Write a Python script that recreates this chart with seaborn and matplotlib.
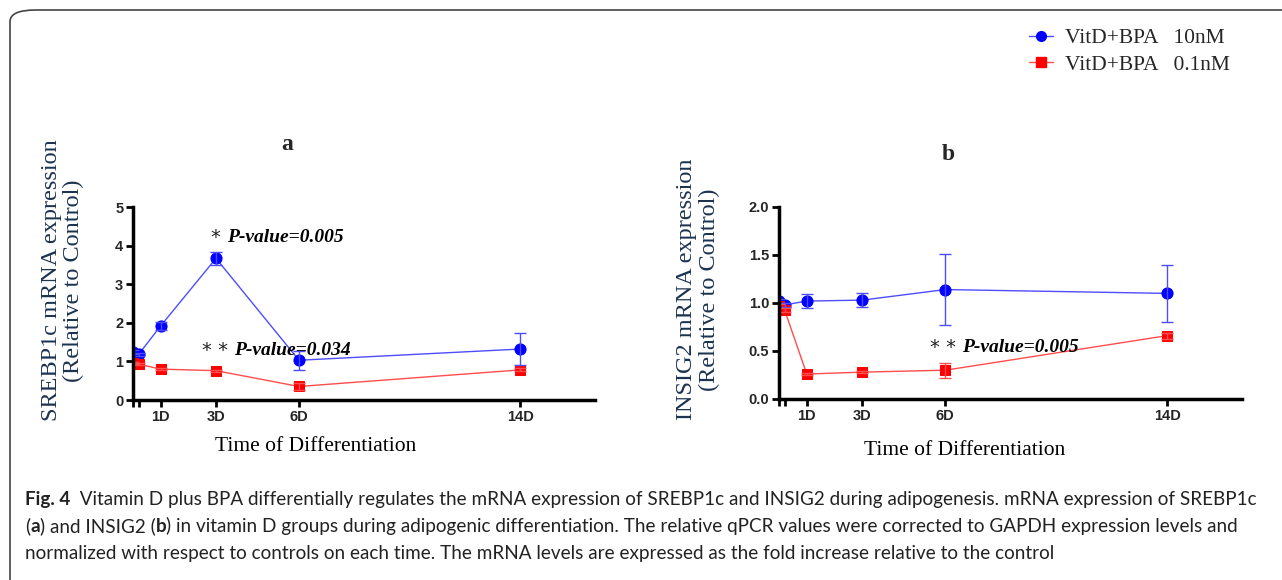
import numpy as np
import pandas as pd
import matplotlib.pyplot as plt
import seaborn as sns
from matplotlib.lines import Line2D
from matplotlib.patches import FancyBboxPatch

# time points (days); 0 and 0.2 are the two early points at the origin
days = [0, 0.2, 1, 3, 6, 14]
tick_pos = [0, 0.2, 1, 3, 6, 14]
tick_labels = ['', '', '1D', '3D', '6D', '14D']

# panel a: SREBP1c
srebp_10nM = [1.25, 1.18, 1.92, 3.67, 1.03, 1.32]
srebp_10nM_err = [0.05, 0.05, 0.10, 0.17, 0.25, 0.42]
srebp_01nM = [0.95, 0.93, 0.80, 0.76, 0.35, 0.78]
srebp_01nM_err = [0.03, 0.03, 0.03, 0.03, 0.09, 0.04]

# panel b: INSIG2
insig_10nM = [1.02, 0.98, 1.02, 1.03, 1.14, 1.10]
insig_10nM_err = [0.02, 0.02, 0.07, 0.07, 0.37, 0.30]
insig_01nM = [0.97, 0.93, 0.26, 0.28, 0.30, 0.66]
insig_01nM_err = [0.02, 0.02, 0.01, 0.01, 0.08, 0.03]

series_labels = ['VitD+BPA   10nM', 'VitD+BPA   0.1nM']

sns.set_theme(style='ticks')
plt.rcParams['font.family'] = ['DejaVu Sans']

fig = plt.figure(figsize=(12.82, 5.8), dpi=100)

# rounded frame of the figure panel
frame = FancyBboxPatch((10 / 1282, -0.2), 1.2, 1 - 10 / 580 + 0.2,
                       boxstyle='round,pad=0,rounding_size=0.02',
                       transform=fig.transFigure, fill=False,
                       edgecolor='#444444', linewidth=1.2, clip_on=False)
fig.patches.append(frame)

ax_a = fig.add_axes([133 / 1282, 1 - 400 / 580, (595 - 133) / 1282, 193 / 580])
ax_b = fig.add_axes([779 / 1282, 1 - 399 / 580, (1242 - 779) / 1282, 192 / 580])

line_blue = '#4d4dff'
line_red = '#ff4d4d'
ylab_color = '#1c3350'


def draw_panel(ax, hi, hi_err, lo, lo_err, ylim, yticks, yticklabels, ylabel,
               ylab_xy, xlab_xy):
    df = pd.DataFrame({'day': days, 'hi': hi, 'lo': lo})
    sns.lineplot(data=df, x='day', y='hi', ax=ax, color=line_blue, lw=1,
                 marker='o', markersize=8, markerfacecolor='#0000ff',
                 markeredgecolor='#0000ff')
    sns.lineplot(data=df, x='day', y='lo', ax=ax, color=line_red, lw=1,
                 marker='s', markersize=7.5, markerfacecolor='#ff0000',
                 markeredgecolor='#ff0000')
    ax.errorbar(days, hi, yerr=hi_err, fmt='none', ecolor=line_blue,
                elinewidth=1, capsize=4, capthick=1)
    ax.errorbar(days, lo, yerr=lo_err, fmt='none', ecolor=line_red,
                elinewidth=1, capsize=4, capthick=1)
    ax.set_xlim(0, 16.7)
    ax.set_ylim(*ylim)
    ax.set_xticks(tick_pos)
    ax.set_xticklabels(tick_labels, fontsize=10.5, fontweight='bold',
                       family='Liberation Sans')
    ax.set_yticks(yticks)
    ax.set_yticklabels(yticklabels, fontsize=10.5, fontweight='bold',
                       family='Liberation Sans')
    ax.tick_params(axis='both', width=2, length=5, color='black', pad=2)
    sns.despine(ax=ax)
    for s in ['left', 'bottom']:
        ax.spines[s].set_linewidth(2.5)
        ax.spines[s].set_color('black')
    ax.set_xlabel('Time of Differentiation', family='Liberation Serif',
                  fontsize=15.5, color='black')
    ax.set_ylabel(ylabel, family='Liberation Serif', fontsize=17.5,
                  color=ylab_color, linespacing=1.1)
    ax.yaxis.set_label_coords(*ylab_xy)
    ax.xaxis.set_label_coords(*xlab_xy)
    ax.set_facecolor('none')


draw_panel(ax_a, srebp_10nM, srebp_10nM_err, srebp_01nM, srebp_01nM_err,
           (0, 5), [0, 1, 2, 3, 4, 5], ['0', '1', '2', '3', '4', '5'],
           'SREBP1c mRNA expression\n(Relative to Control)',
           (-0.105, 0.62), (0.396, -0.19))
draw_panel(ax_b, insig_10nM, insig_10nM_err, insig_01nM, insig_01nM_err,
           (0, 2), [0, 0.5, 1.0, 1.5, 2.0], ['0.0', '0.5', '1.0', '1.5', '2.0'],
           'INSIG2 mRNA expression\n(Relative to Control)',
           (-0.127, 0.57), (0.40, -0.22))

# significance annotations
ann_font = dict(family='Liberation Serif', fontsize=14, fontweight='bold',
                fontstyle='italic', color='black', va='center')
star_font = dict(family='DejaVu Sans', fontsize=14, color='#222222', va='center')
ax_a.text(2.8, 4.2, '*', **star_font)
ax_a.text(3.4, 4.2, 'P-value=0.005', **ann_font)
ax_a.text(2.5, 1.27, '* *', **star_font)
ax_a.text(3.65, 1.27, 'P-value=0.034', **ann_font)
ax_b.text(5.45, 0.54, '* *', **star_font)
ax_b.text(6.6, 0.54, 'P-value=0.005', **ann_font)

# panel letters
fig.text(287 / 1282, 1 - 145 / 580, 'a', family='Liberation Serif',
         fontsize=17, fontweight='bold', ha='center', va='center')
fig.text(948 / 1282, 1 - 155 / 580, 'b', family='Liberation Serif',
         fontsize=17, fontweight='bold', ha='center', va='center')

# legend
handles = [
    Line2D([], [], color=line_blue, lw=1, marker='o', markersize=7,
           markerfacecolor='#0000ff', markeredgecolor='#0000ff'),
    Line2D([], [], color=line_red, lw=1, marker='s', markersize=6.5,
           markerfacecolor='#ff0000', markeredgecolor='#ff0000'),
]
fig.legend(handles, series_labels, loc='upper left',
           bbox_to_anchor=(1029 / 1282, 1 - 28 / 580), frameon=False,
           prop=dict(family='Liberation Serif', size=15.5),
           handlelength=1.1, handletextpad=0.55, labelspacing=0.32,
           borderpad=0, borderaxespad=0)

# caption, drawn piece by piece so the panel letters can be bold
cap_font = dict(family='Lato', fontsize=13.6, color='#222222', va='center')
renderer = fig.canvas.get_renderer()


def caption_line(y_px, pieces):
    x = 25
    for txt, weight in pieces:
        t = fig.text(x / 1282, 1 - y_px / 580, txt, fontweight=weight, **cap_font)
        x += t.get_window_extent(renderer).width


caption_line(499, [('Fig. 4', 'bold'),
                   ('  Vitamin D plus BPA differentially regulates the mRNA expression of SREBP1c '
                    'and INSIG2 during adipogenesis. mRNA expression of SREBP1c', 'normal')])
caption_line(526, [('(', 'normal'), ('a', 'bold'), (') and INSIG2 (', 'normal'), ('b', 'bold'),
                   (') in vitamin D groups during adipogenic differentiation. '
                    'The relative qPCR values were corrected to GAPDH expression levels and',
                    'normal')])
caption_line(553, [('normalized with respect to controls on each time. The mRNA levels are '
                    'expressed as the fold increase relative to the control', 'normal')])

fig.savefig('out.png', dpi=100)
